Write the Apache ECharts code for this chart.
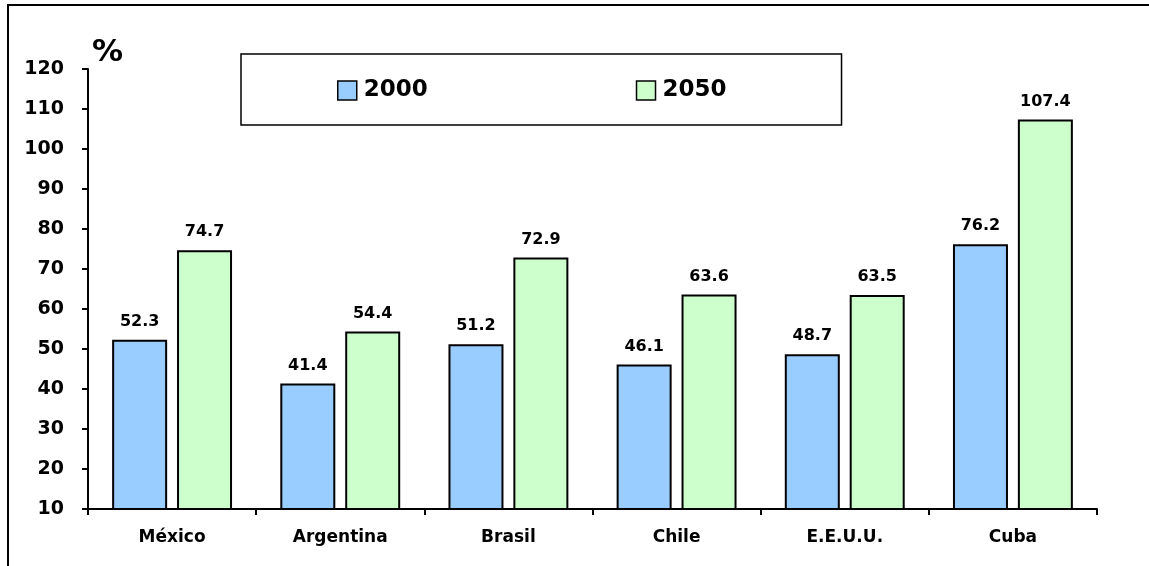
<!DOCTYPE html>
<html>
<head>
<meta charset="utf-8">
<script src="https://cdn.jsdelivr.net/npm/echarts@6/dist/echarts.min.js"></script>
<style>html,body{margin:0;padding:0;background:#fff;}#c{width:1149px;height:566px;}</style>
</head>
<body>
<div id="c"></div>
<script>
var categories = ['México', 'Argentina', 'Brasil', 'Chile', 'E.E.U.U.', 'Cuba'];
var seriesNames = ['2000', '2050'];
var values2000 = [52.3, 41.4, 51.2, 46.1, 48.7, 76.2];
var values2050 = [74.7, 54.4, 72.9, 63.6, 63.5, 107.4];
var yMin = 10, yMax = 120, yStep = 10;
var unitLabel = '%';

var FONT = 'DejaVu Sans';
var chart = echarts.init(document.getElementById('c'), null, {renderer: 'canvas'});
function barSeries(name, data, color) {
  return {
    name: name, type: 'bar', data: data, barWidth: 55, barGap: '18%',
    itemStyle: {color: color, borderColor: '#000', borderWidth: 2},
    label: {show: true, position: 'top', distance: 10, color: '#000',
      fontFamily: FONT, fontWeight: 'bold', fontSize: 16,
      formatter: function (p) { return p.value.toFixed(1); }}
  };
}
chart.setOption({
  animation: false,
  backgroundColor: '#fff',
  graphic: [
    {type: 'rect', shape: {x: 8, y: 5, width: 1200, height: 620},
     style: {fill: 'none', stroke: '#000', lineWidth: 2}, silent: true},
    {type: 'text', left: 92, top: 37,
     style: {text: unitLabel, fontFamily: FONT, fontWeight: 'bold', fontSize: 31, fill: '#000'}}
  ],
  legend: {
    left: 241, top: 54,
    data: seriesNames,
    orient: 'horizontal',
    icon: 'rect', itemWidth: 19, itemHeight: 19, itemGap: 208,
    padding: [25, 115, 23, 96],
    borderColor: '#000', borderWidth: 1.5,
    textStyle: {fontFamily: FONT, fontWeight: 'bold', fontSize: 23, color: '#000', lineHeight: 20, padding: [0, 0, 0, 2]},
    itemStyle: {borderColor: '#000', borderWidth: 1.5}
  },
  grid: {left: 88, right: 52, top: 69, bottom: 57, containLabel: false},
  xAxis: {
    type: 'category', data: categories,
    axisLine: {lineStyle: {color: '#000', width: 2}},
    axisTick: {show: true, length: 6, lineStyle: {color: '#000', width: 2}},
    axisLabel: {color: '#000', fontFamily: FONT, fontWeight: 'bold', fontSize: 17, margin: 20}
  },
  yAxis: {
    type: 'value', min: yMin, max: yMax, interval: yStep,
    axisLine: {show: true, lineStyle: {color: '#000', width: 2}},
    axisTick: {show: true, length: 6, lineStyle: {color: '#000', width: 2}},
    splitLine: {show: false},
    axisLabel: {color: '#000', fontFamily: FONT, fontWeight: 'bold', fontSize: 19, margin: 24}
  },
  series: [
    barSeries(seriesNames[0], values2000, '#99CCFF'),
    barSeries(seriesNames[1], values2050, '#CCFFCC')
  ]
});
</script>
</body>
</html>
